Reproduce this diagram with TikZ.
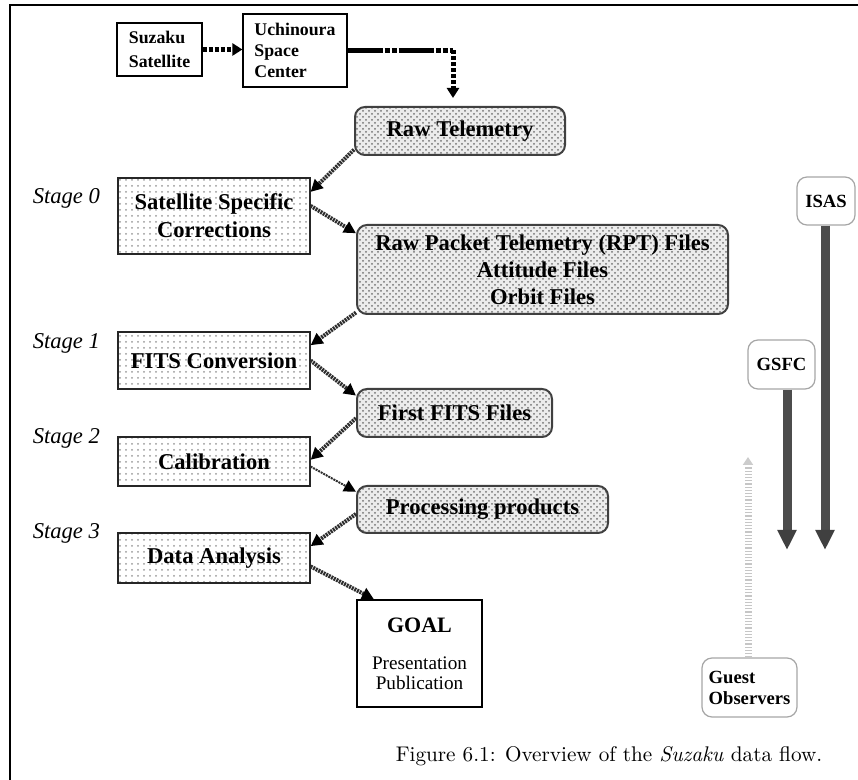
\documentclass[tikz,border=0pt]{standalone}
\usepackage{fontspec}
\setmainfont{Liberation Serif}
\newfontfamily\capfont{Latin Modern Roman}
\usetikzlibrary{arrows.meta,patterns}

\begin{document}
\begin{tikzpicture}[x=0.5pt,y=-0.5pt,
	plainbox/.style={draw, line width=0.6pt, align=left, inner sep=0pt},
	procbox/.style={draw=black!85, line width=0.6pt, pattern=dots, pattern color=black!40,
		align=center, inner sep=0pt, minimum width=96pt, font=\bfseries\fontsize{11.3}{14}\selectfont},
	filebox/.style={draw=black!75, line width=1pt, rounded corners=5pt, preaction={fill=gray!15},
		pattern=crosshatch dots, pattern color=black!55, align=center, inner sep=0pt,
		font=\bfseries\fontsize{11.3}{13.5}\selectfont},
	orgbox/.style={draw=gray!70, line width=0.6pt, rounded corners=5pt, fill=white, inner sep=0pt,
		font=\bfseries\fontsize{9.3}{10.5}\selectfont},
	stagelabel/.style={anchor=base east, font=\itshape\fontsize{11.3}{13}\selectfont},
	flow/.style={draw=black!82, line width=2pt, dash pattern=on 1pt off 0.45pt,
		-{Triangle[length=6pt,width=6pt,color=black]}},
	feed/.style={draw=black!70, line width=4.5pt, -{Triangle[length=10pt,width=9pt,color=black!75]}},
	]
	\useasboundingbox (0,0) rectangle (858,780);
	
	% Frame
	\draw[line width=1.2pt, line join=miter] (10,780) -- (10,5) -- (858,5);
	
	% Satellite and ground station
	\node[plainbox, minimum width=42.5pt, minimum height=26.5pt, font=\bfseries\fontsize{8.9}{12}\selectfont] (suzaku) at (159.5,49.5) {Suzaku\\Satellite};
	\node[plainbox, minimum width=52pt, minimum height=36.5pt, font=\bfseries\fontsize{8.9}{10.5}\selectfont] (uchinoura) at (295,50.5) {Uchinoura\\Space\\Center};
	\draw[line width=2.5pt, dash pattern=on 2pt off 1pt, -{Triangle[length=5pt,width=6pt]}] (suzaku.east) -- (suzaku.east -| uchinoura.west);
	
	% Telemetry files
	\node[filebox, minimum width=105pt, minimum height=24pt] (rawtel) at (460,131) {Raw Telemetry};
	\node[filebox, minimum width=185.5pt, minimum height=44.5pt] (rawpkt) at (542.5,269.5) {Raw Packet Telemetry (RPT) Files\\Attitude Files\\Orbit Files};
	\node[filebox, minimum width=97.5pt, minimum height=24pt] (firstfits) at (454.5,413) {First FITS Files};
	\node[filebox, minimum width=125.5pt, minimum height=23.5pt] (proc) at (482.5,509.5) {Processing products};
	
	% Processing stages
	\node[procbox, minimum height=38pt] (ssc) at (214,216) {Satellite Specific\\Corrections};
	\node[procbox, minimum height=28.5pt] (fitsconv) at (214,360.5) {FITS Conversion};
	\node[procbox, minimum height=24.5pt] (calib) at (214,461.5) {Calibration};
	\node[procbox, minimum height=25pt] (da) at (214,558) {Data Analysis};
	\foreach \y/\s in {204/0,349/1,444/2,539/3}
		\node[stagelabel] (stage\s) at (107,\y) {Stage \s};
	
	% Goal
	\node[draw, line width=0.8pt, minimum width=62.5pt, minimum height=53.5pt, align=center, inner sep=0pt,
		font=\fontsize{9.6}{10}\selectfont] (goal) at (419.5,653.5)
		{{\bfseries\fontsize{11}{12}\selectfont GOAL}\\[8.5pt]Presentation\\Publication};
	
	% Downlink to raw telemetry
	\coordinate (rtin) at ([xshift=-3.5pt,yshift=4pt]rawtel.north);
	\draw[line width=2.5pt, dash pattern=on 17.5pt off 1pt on 2.5pt off 1pt on 2.5pt off 1pt] (uchinoura.east) -- (uchinoura.east -| rtin);
	\draw[line width=2.5pt, dash pattern=on 2pt off 1pt, -{Triangle[length=5pt,width=6pt]}] (uchinoura.east -| rtin) -- (rtin);
	
	% Data flow
	\draw[flow] (rawtel.190) -- (ssc.14);
	\draw[flow] (ssc.6) -- (rawpkt.169);
	\draw[flow] (rawpkt.193) -- (fitsconv.9);
	\draw[flow] (fitsconv.east) -- (firstfits.170);
	\draw[flow] (firstfits.183) -- (calib.1);
	\draw[flow, line width=1pt] (calib.357) -- (proc.172);
	\draw[flow] (proc.182) -- (da.7);
	\draw[flow] (da.355) -- (goal.130);
	
	% Distribution
	\node[orgbox, minimum width=29pt, minimum height=24pt] (isas) at (826,201) {ISAS};
	\node[orgbox, minimum width=33.5pt, minimum height=24.5pt] (gsfc) at (781.5,364.5) {GSFC};
	\node[orgbox, minimum width=47.5pt, minimum height=29.5pt, align=left] (guest) at (749.5,687.5) {Guest\\Observers};
	\coordinate (isasEnd) at (825,550);
	\coordinate (gsfcEnd) at (787,550);
	\coordinate (guestEnd) at (748,457);
	\draw[feed] (isas.south -| isasEnd) -- (isasEnd);
	\draw[feed] (gsfc.south -| gsfcEnd) -- (gsfcEnd);
	\draw[draw=gray!45, line width=3.5pt, dash pattern=on 0.6pt off 1pt, -{Triangle[length=4pt,width=5pt,color=gray!40]}] (guest.north -| guestEnd) -- (guestEnd);
	
	% Caption
	\node[anchor=base, font=\capfont\fontsize{10.6}{12}\selectfont] (caption) at (609,762) {Figure 6.1: Overview of the \textit{Suzaku} data flow.};
\end{tikzpicture}
\end{document}
